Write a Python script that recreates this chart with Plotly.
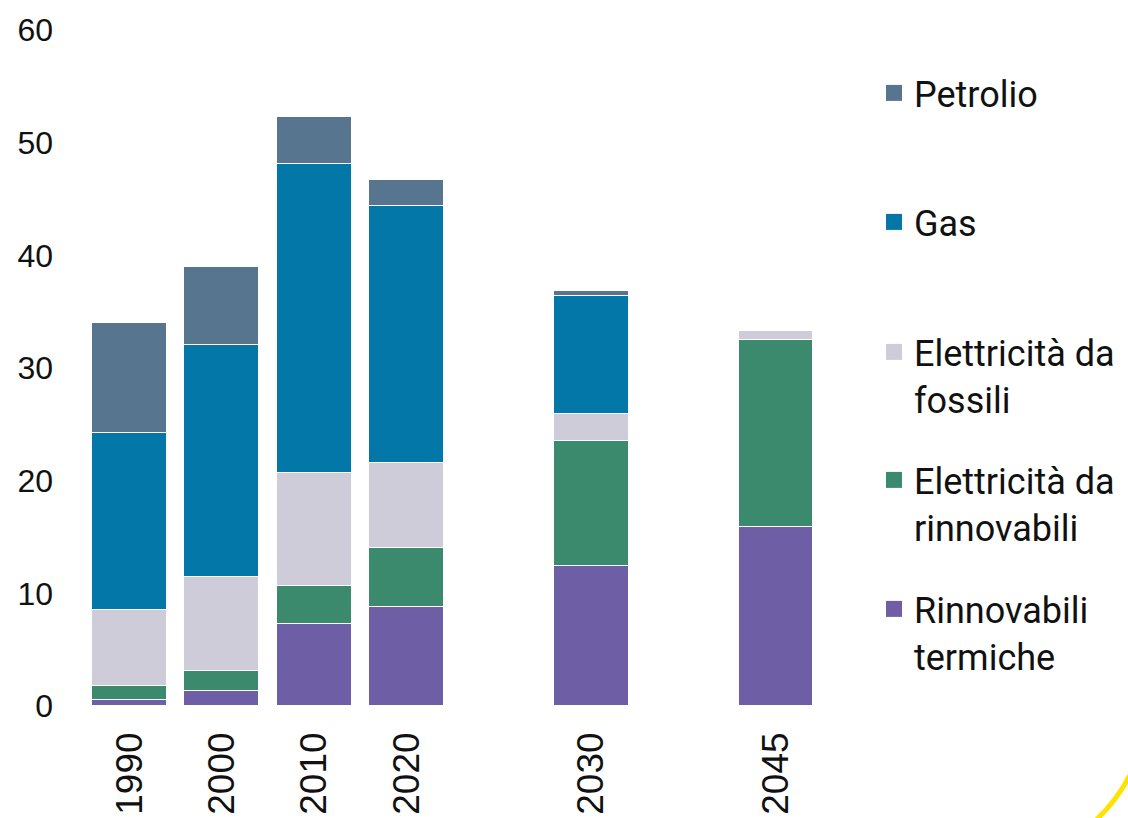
import plotly.graph_objects as go

# ---- data ----
years = ["1990", "2000", "2010", "2020", "2030", "2045"]
rinnovabili_termiche = [0.5, 1.33, 7.3, 8.8, 12.4, 15.9]
elettricita_rinnovabili = [1.3, 1.8, 3.35, 5.2, 11.1, 16.6]
elettricita_fossili = [6.68, 8.32, 10.0, 7.56, 2.4, 0.8]
gas = [15.73, 20.55, 27.43, 22.8, 10.5, 0]
petrolio = [9.8, 6.95, 4.16, 2.31, 0.45, 0]

# ---- layout helpers ----
x_slots = [0, 1, 2, 3, 5, 7]  # horizontal slot of each year (gaps before 2030 / 2045)
W, H = 1128, 818
ML, MR, MT, MB = 60, 268, 30, 112

series = [
    ("Rinnovabili<br>termiche", rinnovabili_termiche, "#6e5ea6"),
    ("Elettricità da<br>rinnovabili", elettricita_rinnovabili, "#3c8a6e"),
    ("Elettricità da<br>fossili", elettricita_fossili, "#cdccd8"),
    ("Gas", gas, "#0377a7"),
    ("Petrolio", petrolio, "#587590"),
]

fig = go.Figure()
for name, vals, col in series:
    fig.add_trace(go.Bar(
        x=x_slots, y=vals, name=name, width=0.81,
        marker=dict(color=col, line=dict(color="white", width=1.5)),
        showlegend=False, hoverinfo="skip",
    ))

# legend entries (one legend per entry, top-aligned at fixed spacing)
legend_order = ["Petrolio", "Gas", "Elettricità da<br>fossili",
                "Elettricità da<br>rinnovabili", "Rinnovabili<br>termiche"]
colors = {n: c for n, _, c in series}
first_line_center = [91, 220, 350, 478, 607]
legend_left = 874
for i, name in enumerate(legend_order):
    key = "legend" if i == 0 else f"legend{i+1}"
    fig.add_trace(go.Scatter(
        x=[None], y=[None], mode="markers", name=name,
        marker=dict(symbol="square", size=16, color=colors[name]),
        legend=key, showlegend=True,
    ))
    fig.update_layout({key: dict(
        xref="container", yref="container",
        x=legend_left / W, y=1 - (first_line_center[i] - 28) / H,
        xanchor="left", yanchor="top",
        font=dict(family="Roboto", size=36, color="#111111"),
        bgcolor="rgba(0,0,0,0)", borderwidth=0, valign="top",
    )})


def px2paper(px, py):
    return (px - ML) / (W - ML - MR), (H - MB - py) / (H - MT - MB)

a = px2paper(1093, 823)
p = px2paper(1117, 801)
c = px2paper(1131, 773)
fig.add_shape(type="path", xref="paper", yref="paper",
              path=f"M {a[0]},{a[1]} Q {p[0]},{p[1]} {c[0]},{c[1]}",
              line=dict(color="#ffe300", width=5))

fig.update_layout(
    width=W, height=H,
    margin=dict(l=ML, r=MR, t=MT, b=MB, autoexpand=False),
    barmode="stack", bargap=0,
    plot_bgcolor="white", paper_bgcolor="white",
    xaxis=dict(range=[-0.753, 7.91], tickmode="array", tickvals=x_slots,
               ticktext=years, tickangle=-90, showgrid=False, zeroline=False,
               showline=False, ticks="", ticklabelstandoff=18, automargin=False,
               tickfont=dict(family="Liberation Sans", size=37, color="#111111")),
    yaxis=dict(range=[0, 60], tickmode="array", tickvals=list(range(0, 61, 10)),
               showgrid=False, zeroline=False, showline=False, ticks="",
               ticklabelstandoff=6, automargin=False,
               tickfont=dict(family="Liberation Sans", size=32, color="#111111")),
)

fig.write_html("out.html")
